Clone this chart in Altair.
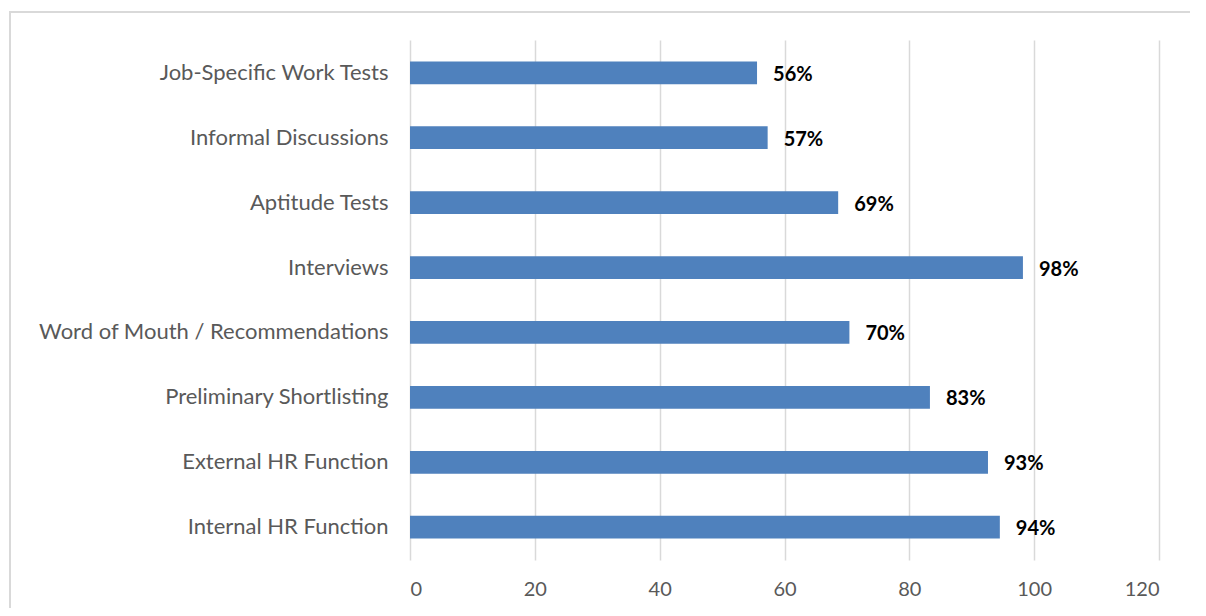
import altair as alt
import pandas as pd

categories = [
    "Job-Specific Work Tests",
    "Informal Discussions",
    "Aptitude Tests",
    "Interviews",
    "Word of Mouth / Recommendations",
    "Preliminary Shortlisting",
    "External HR Function",
    "Internal HR Function",
]
values = [55.6, 57.3, 68.6, 98.2, 70.4, 83.3, 92.6, 94.5]
labels = ["56%", "57%", "69%", "98%", "70%", "83%", "93%", "94%"]

df = pd.DataFrame({"cat": categories, "val": values, "lab": labels})

FONT = "Lato"

y_enc = alt.Y(
    "cat:N",
    sort=categories,
    title=None,
    scale=alt.Scale(paddingInner=0.65, paddingOuter=0.33),
    axis=alt.Axis(
        domain=False,
        ticks=False,
        grid=False,
        labelPadding=22,
        labelFontSize=22,
        labelColor="#595959",
        labelFont=FONT,
        labelLimit=400,
    ),
)

bars = alt.Chart(df).mark_bar(color="#4F81BD").encode(
    x=alt.X(
        "val:Q",
        title=None,
        scale=alt.Scale(domain=[0, 120]),
        axis=alt.Axis(
            values=[0, 20, 40, 60, 80, 100, 120],
            domain=False,
            ticks=False,
            grid=True,
            gridColor="#d9d9d9",
            gridWidth=1.5,
            labelPadding=19,
            labelFontSize=20,
            labelColor="#595959",
            labelFont=FONT,
        ),
    ),
    y=y_enc,
)

text = alt.Chart(df).mark_text(
    align="left",
    baseline="middle",
    dx=16,
    dy=2,
    fontSize=20,
    fontWeight="bold",
    font=FONT,
    color="#000000",
).encode(
    x="val:Q",
    y=alt.Y("cat:N", sort=categories),
    text="lab:N",
)

border = alt.Chart(df).mark_rect(
    fill=None, stroke="#d9d9d9", strokeWidth=2
).encode(
    x=alt.value(-400),
    x2=alt.value(1000),
    y=alt.value(-28),
    y2=alt.value(800),
)

chart = (
    alt.layer(border, bars, text)
    .properties(
        width=749,
        height=520,
        background="white",
        autosize=alt.AutoSizeParams(type="none"),
        padding={"left": 402, "top": 32, "right": 31, "bottom": 48},
    )
    .configure_view(strokeWidth=0, stroke="transparent")
)

chart.save("out.html", embed_options={"renderer": "svg", "actions": False})
